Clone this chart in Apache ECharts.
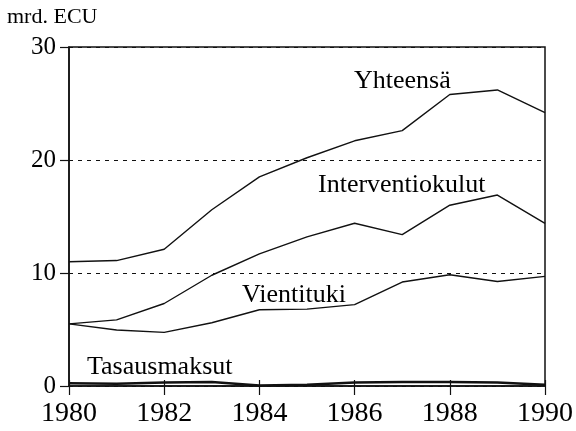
<!DOCTYPE html>
<html><head><meta charset="utf-8">
<script src="https://cdn.jsdelivr.net/npm/echarts@6/dist/echarts.min.js"></script>
<style>html,body{margin:0;padding:0;background:#fff}#c{width:576px;height:431px}</style>
</head><body><div id="c"></div>
<script>
const years = ['1980','1981','1982','1983','1984','1985','1986','1987','1988','1989','1990'];
const yhteensa = [11.0, 11.1, 12.1, 15.6, 18.5, 20.2, 21.7, 22.6, 25.8, 26.2, 24.2];
const interventiokulut = [5.5, 5.85, 7.3, 9.8, 11.7, 13.2, 14.4, 13.4, 16.0, 16.9, 14.4];
const vientituki = [5.5, 4.95, 4.75, 5.6, 6.75, 6.8, 7.2, 9.2, 9.85, 9.25, 9.7];
const tasausmaksut = [0.25, 0.2, 0.3, 0.35, 0.05, 0.1, 0.3, 0.35, 0.35, 0.3, 0.1];
const yTicks = [0, 10, 20, 30];
const seriesNames = ['Yhteensä', 'Interventiokulut', 'Vientituki', 'Tasausmaksut'];
const unitLabel = 'mrd. ECU';

const font = '"Liberation Serif", "Times New Roman", Times, serif';
const chart = echarts.init(document.getElementById('c'), null, {renderer:'canvas'});
const lineSeries = (name, data, w) => ({
  name, type:'line', data, symbol:'none', xAxisIndex:0,
  lineStyle:{color:'#111', width:w}, animation:false
});
const lbl = (text, left, top, size) => ({type:'text', left, top,
  style:{text, fontFamily:font, fontSize:size, fill:'#000'}});
chart.setOption({
  animation:false,
  grid:{left:69, right:30, top:47, bottom:45, show:true, borderColor:'#111', borderWidth:1.5},
  xAxis:[{
    type:'category', data:years, boundaryGap:false,
    axisLine:{lineStyle:{color:'#111', width:1.5}},
    axisTick:{interval:1, length:9, lineStyle:{color:'#111', width:1.2}},
    axisLabel:{interval:1, fontFamily:font, fontSize:28, color:'#000', margin:14},
    splitLine:{show:false}
  },{
    type:'category', data:years, boundaryGap:false, position:'bottom',
    axisLine:{show:false},
    axisTick:{inside:true, interval:1, length:6, lineStyle:{color:'#111', width:1.2}},
    axisLabel:{show:false}
  }],
  yAxis:{
    type:'value', min:yTicks[0], max:yTicks[yTicks.length-1], interval:10,
    axisLine:{show:true, lineStyle:{color:'#111', width:1.5}},
    axisTick:{show:true, length:9, lineStyle:{color:'#111', width:1.2}},
    axisLabel:{fontFamily:font, fontSize:25, color:'#000', margin:13},
    splitLine:{show:true, lineStyle:{color:'#111', type:[4,5], width:1.2}}
  },
  series:[
    lineSeries(seriesNames[0], yhteensa, 1.4),
    lineSeries(seriesNames[1], interventiokulut, 1.4),
    lineSeries(seriesNames[2], vientituki, 1.4),
    lineSeries(seriesNames[3], tasausmaksut, 2.5)
  ],
  graphic:[
    lbl(unitLabel, 7, 6, 22),
    lbl(seriesNames[0], 354, 68, 26),
    lbl(seriesNames[1], 318, 172, 26),
    lbl(seriesNames[2], 242, 282, 26),
    lbl(seriesNames[3], 87, 354, 26)
  ]
});
</script></body></html>
